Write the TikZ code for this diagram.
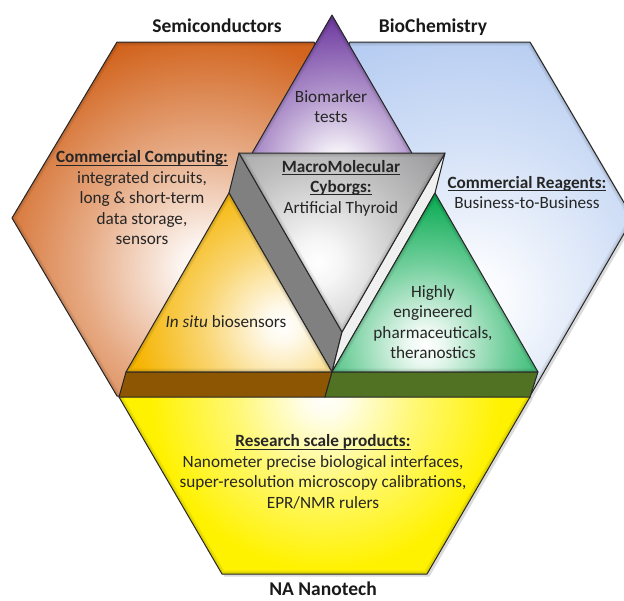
\documentclass[tikz,border=0pt]{standalone}
\usepackage{fontspec}
\setmainfont{Carlito}
\definecolor{oC}{RGB}{210,100,30}
\definecolor{bC}{RGB}{176,200,240}
\definecolor{yC}{RGB}{255,242,0}
\definecolor{pC}{RGB}{110,58,160}
\definecolor{gC}{RGB}{138,138,140}
\definecolor{ytC}{RGB}{245,180,0}
\definecolor{grC}{RGB}{0,168,76}
\definecolor{brownbar}{RGB}{140,86,2}
\definecolor{greenbar}{RGB}{80,114,34}
\definecolor{darkface}{RGB}{128,128,128}
\definecolor{lightface}{RGB}{240,240,240}
\colorlet{glowin}{white}
\colorlet{glowout}{oC}
\pgfdeclareradialshading[glowin,glowout]{glow}{\pgfpoint{0bp}{0bp}}{color(0bp)=(glowin); color(3bp)=(glowin!92!glowout); color(13bp)=(glowin!45!glowout); color(25bp)=(glowout); color(50bp)=(glowout)}
\newcommand{\ulx}[1]{\setbox0\hbox{#1}\rlap{\rule[-2.6pt]{\wd0}{1pt}}\box0}
\newcommand{\glowshape}[6]{%
  \colorlet{glowin}{#3}\colorlet{glowout}{#2}%
  \begin{scope}
    \clip #1 -- cycle;
    \fill[#2] #1 -- cycle;
    \shade[shading=glow] #4 circle (#5);
    \draw[black, opacity=.07, line width=7pt, line join=round] #1 -- cycle;
    \draw[black, opacity=.07, line width=3.5pt, line join=round] #1 -- cycle;
  \end{scope}
  \draw[outl] #1 -- cycle;}
\newcommand{\shadowshape}[1]{\fill[black,opacity=.14,shift={(2.5,2.5)}] #1 -- cycle;}
\tikzset{
  outl/.style={draw=black!85, line width=1pt, line join=round},
  lbl/.style={font=\fontsize{17.2}{20.5}\selectfont, align=center, text=black!85, inner sep=0pt},
  ttl/.style={font=\fontsize{19.5}{22}\selectfont\bfseries, inner sep=0pt, text=black!90},
}
\begin{document}
\begin{tikzpicture}[x=1pt,y=-1pt]
\useasboundingbox (0,0) rectangle (624,600);
% hexagons
\shadowshape{(12,218) -- (117,42) -- (314,42) -- (416,218) -- (314,396) -- (117,396)}
\glowshape{(12,218) -- (117,42) -- (314,42) -- (416,218) -- (314,396) -- (117,396)}{oC}{white}{(205,268)}{235pt}{}
\shadowshape{(248,218) -- (350,42) -- (530,42) -- (633,218) -- (530,396) -- (350,396)}
\glowshape{(248,218) -- (350,42) -- (530,42) -- (633,218) -- (530,396) -- (350,396)}{bC}{white}{(470,300)}{300pt}{}
\shadowshape{(119,397) -- (222,219) -- (428,219) -- (530,397) -- (427,574) -- (222,574)}
\glowshape{(119,397) -- (222,219) -- (428,219) -- (530,397) -- (427,574) -- (222,574)}{yC}{white}{(325,395)}{175pt}{}
% purple triangle
\glowshape{(332,15) -- (435,193) -- (229,193)}{pC}{white}{(338,168)}{150pt}{}
% gray prism
\fill[darkface] (239,153) -- (342,332) -- (332,372) -- (229,193) -- cycle;
\draw[outl] (239,153) -- (342,332) -- (332,372) -- (229,193) -- cycle;
\fill[lightface] (445,153) -- (342,332) -- (332,372) -- (435,193) -- cycle;
\draw[outl] (445,153) -- (342,332) -- (332,372) -- (435,193) -- cycle;
\glowshape{(239,153) -- (445,153) -- (342,332)}{gC}{white}{(318,262)}{190pt}{}
% yellow triangle and bar
\glowshape{(229,193) -- (332,372) -- (126,372)}{ytC}{white}{(282,325)}{150pt}{}
\fill[brownbar] (126,372) -- (332,372) -- (325,397) -- (119,397) -- cycle;
\draw[outl] (126,372) -- (332,372) -- (325,397) -- (119,397) -- cycle;
% green triangle and bar
\glowshape{(435,193) -- (538,372) -- (332,372)}{grC}{white}{(425,345)}{155pt}{}
\fill[greenbar] (332,372) -- (538,372) -- (530,397) -- (325,397) -- cycle;
\draw[outl] (332,372) -- (538,372) -- (530,397) -- (325,397) -- cycle;
% titles
\node[ttl] (semi) at (217,26) {Semiconductors};
\node[ttl] (bio) at (433,27) {BioChemistry};
\node[ttl] (nano) at (323,589) {NA Nanotech};
% labels
\node[lbl] (comp) at (142,198) {\ulx{\textbf{Commercial Computing:}}\\integrated circuits,\\long \& short-term\\data storage,\\sensors};
\node[lbl] (reag) at (527,192.5) {\ulx{\textbf{Commercial Reagents:}}\\Business-to-Business};
\node[lbl] (cyb) at (341,188) {\ulx{\textbf{MacroMolecular}}\\\ulx{\textbf{Cyborgs:}}\\Artificial Thyroid};
\node[lbl] (biom) at (331,106.5) {Biomarker\\tests};
\node[lbl] (insitu) at (226,322) {\textit{In situ} biosensors};
\node[lbl] (pharm) at (433,322) {Highly\\engineered\\pharmaceuticals,\\theranostics};
\node[lbl] (res) at (323,472) {\ulx{\textbf{Research scale products:}}\\Nanometer precise biological interfaces,\\super-resolution microscopy calibrations,\\EPR/NMR rulers};
\end{tikzpicture}
\end{document}
